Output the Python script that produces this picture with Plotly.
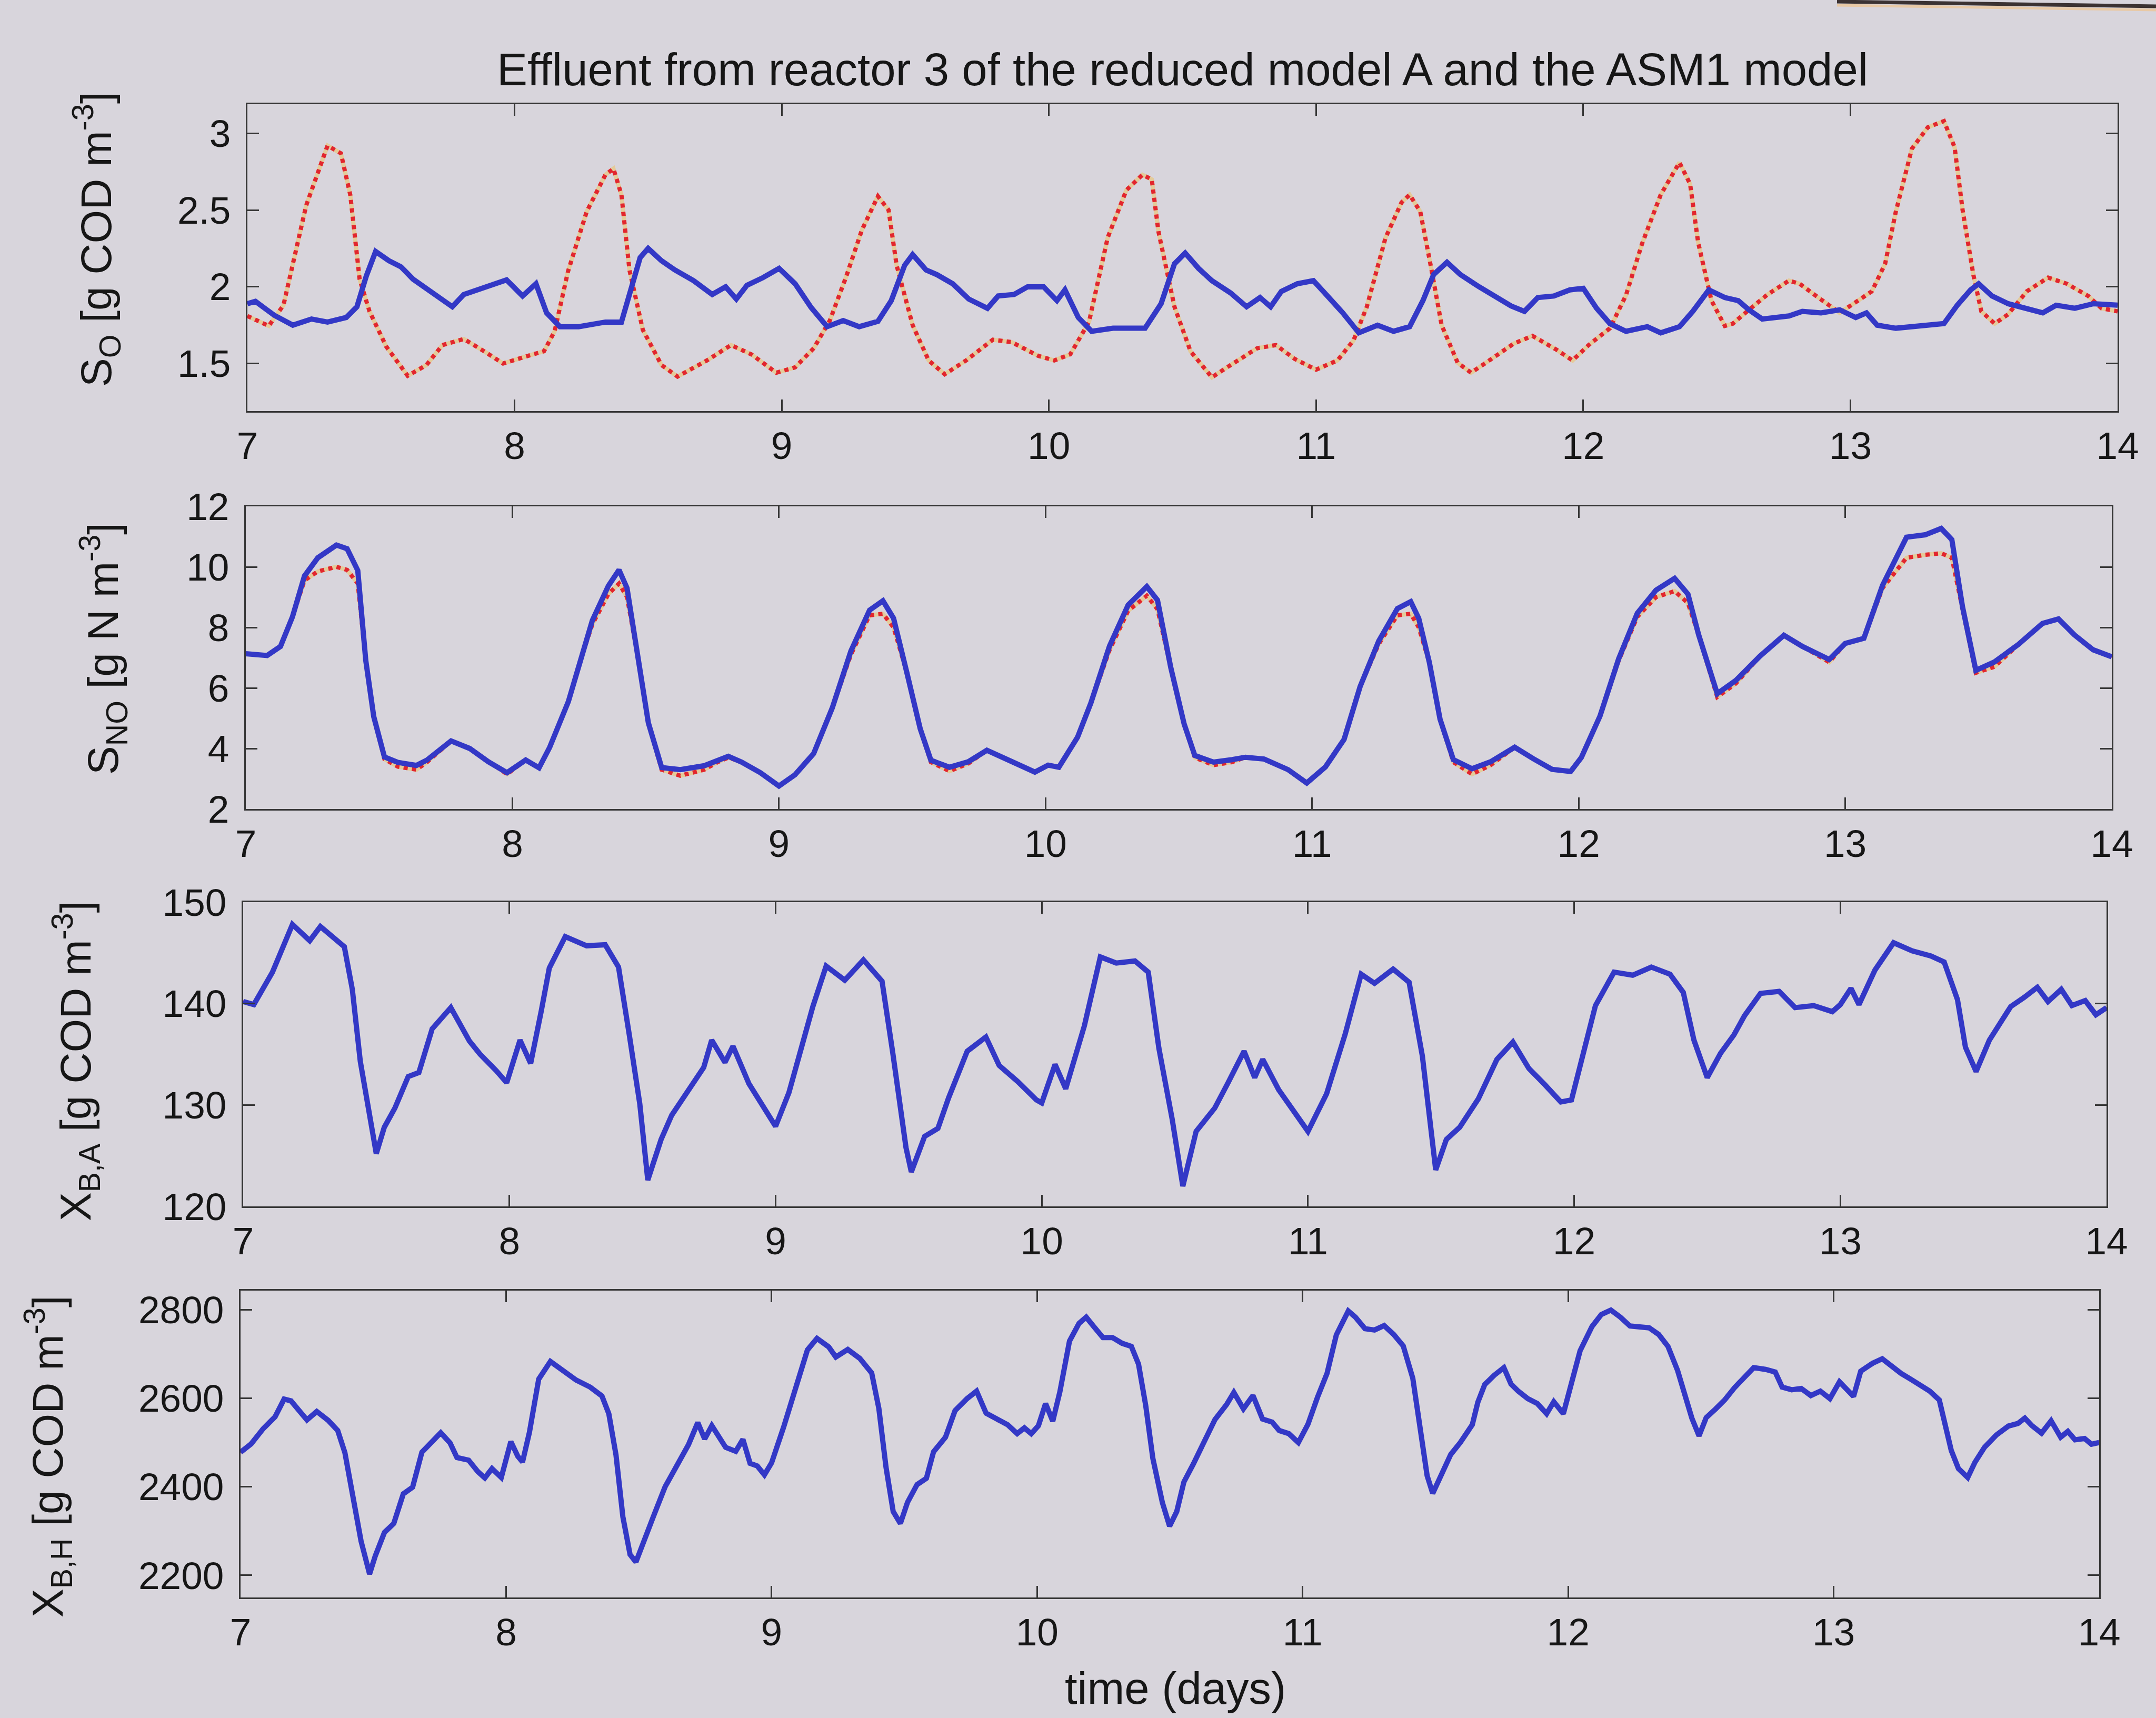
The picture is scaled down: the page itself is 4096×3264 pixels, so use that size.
import plotly.graph_objects as go

W, H = 4096, 3264

FONT = "Liberation Sans, Arial, Helvetica, sans-serif"
BG = "#d8d5dc"
BLUE = "#3338c6"
RED = "#e2262e"
HALO = "#f1c25a"
FRAME = "#363636"
INK = "#161616"

day_ticks = [7, 8, 9, 10, 11, 12, 13, 14]

so_ticks = [1.5, 2, 2.5, 3]
so_tick_text = ["1.5", "2", "2.5", "3"]
sno_ticks = [2, 4, 6, 8, 10, 12]
xba_ticks = [120, 130, 140, 150]
xbh_ticks = [2200, 2400, 2600, 2800]

# ---- S_O (dissolved oxygen) ----
so_dotted = [
    (7.00, 1.81), (7.08, 1.745), (7.135, 1.88), (7.17, 2.14), (7.22, 2.53), (7.30, 2.92),
    (7.35, 2.87), (7.385, 2.60), (7.42, 2.05), (7.457, 1.84), (7.52, 1.61), (7.60, 1.42),
    (7.67, 1.49), (7.73, 1.62), (7.81, 1.66), (7.886, 1.58), (7.957, 1.50), (8.05, 1.55),
    (8.11, 1.58), (8.15, 1.71), (8.20, 2.10), (8.27, 2.49), (8.34, 2.73), (8.37, 2.77),
    (8.40, 2.60), (8.43, 2.11), (8.48, 1.72), (8.55, 1.49), (8.61, 1.415), (8.72, 1.52),
    (8.81, 1.62), (8.886, 1.56), (8.98, 1.44), (9.05, 1.475), (9.12, 1.60), (9.18, 1.78),
    (9.24, 2.06), (9.30, 2.37), (9.36, 2.59), (9.40, 2.50), (9.43, 2.14), (9.49, 1.75),
    (9.55, 1.52), (9.61, 1.43), (9.69, 1.52), (9.79, 1.655), (9.86, 1.64), (9.96, 1.55),
    (10.02, 1.52), (10.08, 1.56), (10.15, 1.77), (10.22, 2.32), (10.29, 2.63), (10.35, 2.73),
    (10.385, 2.70), (10.41, 2.36), (10.47, 1.87), (10.53, 1.58), (10.61, 1.41), (10.68, 1.49),
    (10.78, 1.60), (10.85, 1.62), (10.92, 1.53), (11.00, 1.46), (11.08, 1.52), (11.14, 1.65),
    (11.19, 1.87), (11.26, 2.32), (11.32, 2.55), (11.35, 2.60), (11.39, 2.49), (11.43, 2.13),
    (11.47, 1.75), (11.53, 1.505), (11.58, 1.44), (11.64, 1.51), (11.74, 1.63), (11.81, 1.68),
    (11.90, 1.59), (11.96, 1.52), (12.02, 1.62), (12.10, 1.73), (12.16, 1.945), (12.22, 2.28),
    (12.29, 2.60), (12.36, 2.81), (12.40, 2.67), (12.43, 2.29), (12.48, 1.91), (12.53, 1.745),
    (12.56, 1.76), (12.62, 1.85), (12.69, 1.95), (12.77, 2.04), (12.81, 2.02), (12.88, 1.93),
    (12.96, 1.83), (13.02, 1.90), (13.08, 1.97), (13.13, 2.15), (13.17, 2.49), (13.23, 2.90),
    (13.29, 3.04), (13.35, 3.08), (13.39, 2.91), (13.42, 2.50), (13.46, 2.08), (13.49, 1.84),
    (13.54, 1.76), (13.59, 1.82), (13.66, 1.97), (13.74, 2.06), (13.81, 2.02), (13.89, 1.94),
    (13.94, 1.86), (14.00, 1.84),
]
so_solid = [
    (7.00, 1.89), (7.03, 1.905), (7.10, 1.815), (7.17, 1.75), (7.24, 1.79), (7.30, 1.77),
    (7.37, 1.80), (7.41, 1.87), (7.445, 2.07), (7.48, 2.23), (7.53, 2.17), (7.575, 2.13),
    (7.62, 2.05), (7.695, 1.96), (7.767, 1.87), (7.81, 1.95), (7.86, 1.98), (7.91, 2.01),
    (7.97, 2.045), (8.03, 1.94), (8.08, 2.02), (8.12, 1.83), (8.17, 1.74), (8.24, 1.74),
    (8.34, 1.77), (8.40, 1.77), (8.43, 1.95), (8.47, 2.19), (8.50, 2.25), (8.55, 2.17),
    (8.60, 2.11), (8.67, 2.04), (8.74, 1.95), (8.79, 2.00), (8.83, 1.92), (8.87, 2.01),
    (8.93, 2.06), (8.99, 2.12), (9.05, 2.02), (9.11, 1.865), (9.17, 1.74), (9.23, 1.78),
    (9.29, 1.74), (9.36, 1.775), (9.41, 1.91), (9.46, 2.14), (9.49, 2.21), (9.54, 2.11),
    (9.58, 2.08), (9.64, 2.02), (9.70, 1.92), (9.77, 1.86), (9.81, 1.94), (9.87, 1.95),
    (9.92, 2.00), (9.98, 2.00), (10.03, 1.91), (10.06, 1.98), (10.11, 1.80), (10.16, 1.71),
    (10.24, 1.73), (10.36, 1.73), (10.42, 1.89), (10.47, 2.15), (10.51, 2.22), (10.56, 2.12),
    (10.61, 2.04), (10.68, 1.96), (10.74, 1.87), (10.79, 1.93), (10.83, 1.87), (10.87, 1.97),
    (10.93, 2.02), (10.99, 2.04), (11.04, 1.945), (11.10, 1.83), (11.16, 1.70), (11.23, 1.75),
    (11.29, 1.71), (11.35, 1.74), (11.40, 1.91), (11.44, 2.08), (11.49, 2.16), (11.54, 2.08),
    (11.61, 2.00), (11.67, 1.94), (11.73, 1.875), (11.78, 1.84), (11.83, 1.93), (11.89, 1.94),
    (11.95, 1.98), (12.00, 1.99), (12.05, 1.86), (12.10, 1.76), (12.16, 1.71), (12.24, 1.74),
    (12.29, 1.70), (12.36, 1.74), (12.41, 1.84), (12.47, 1.98), (12.53, 1.93), (12.58, 1.91),
    (12.62, 1.85), (12.67, 1.79), (12.77, 1.81), (12.82, 1.84), (12.89, 1.83), (12.96, 1.85),
    (13.02, 1.80), (13.06, 1.83), (13.10, 1.75), (13.17, 1.73), (13.25, 1.74), (13.35, 1.76),
    (13.40, 1.88), (13.45, 1.98), (13.48, 2.02), (13.53, 1.94), (13.59, 1.89), (13.65, 1.86),
    (13.72, 1.83), (13.77, 1.88), (13.84, 1.86), (13.91, 1.89), (14.00, 1.88),
]

# ---- S_NO (nitrate) ----
sno_solid = [
    (7.00, 7.13), (7.08, 7.07), (7.13, 7.37), (7.175, 8.35), (7.22, 9.70), (7.27, 10.30),
    (7.34, 10.72), (7.38, 10.60), (7.42, 9.88), (7.45, 6.91), (7.48, 5.05), (7.52, 3.72),
    (7.57, 3.54), (7.64, 3.44), (7.68, 3.62), (7.77, 4.25), (7.84, 4.00), (7.91, 3.56),
    (7.98, 3.20), (8.05, 3.62), (8.10, 3.36), (8.14, 4.04), (8.21, 5.55), (8.26, 7.04),
    (8.30, 8.23), (8.36, 9.37), (8.40, 9.90), (8.43, 9.30), (8.47, 7.08), (8.51, 4.85),
    (8.56, 3.37), (8.63, 3.30), (8.72, 3.43), (8.77, 3.62), (8.81, 3.74), (8.86, 3.55),
    (8.93, 3.20), (9.00, 2.76), (9.06, 3.13), (9.13, 3.83), (9.20, 5.34), (9.27, 7.22),
    (9.34, 8.57), (9.39, 8.88), (9.43, 8.30), (9.48, 6.50), (9.53, 4.65), (9.57, 3.61),
    (9.64, 3.38), (9.71, 3.56), (9.78, 3.94), (9.87, 3.58), (9.96, 3.22), (10.01, 3.45),
    (10.05, 3.38), (10.12, 4.37), (10.17, 5.50), (10.24, 7.38), (10.31, 8.74), (10.38, 9.35),
    (10.42, 8.90), (10.47, 6.67), (10.52, 4.81), (10.56, 3.77), (10.63, 3.55), (10.70, 3.63),
    (10.75, 3.71), (10.82, 3.65), (10.91, 3.30), (10.98, 2.86), (11.05, 3.39), (11.12, 4.30),
    (11.18, 6.04), (11.25, 7.55), (11.32, 8.62), (11.37, 8.85), (11.40, 8.30), (11.44, 6.84),
    (11.48, 4.97), (11.53, 3.63), (11.60, 3.33), (11.67, 3.56), (11.76, 4.04), (11.83, 3.66),
    (11.90, 3.31), (11.97, 3.24), (12.01, 3.70), (12.08, 5.07), (12.15, 6.96), (12.22, 8.47),
    (12.29, 9.23), (12.36, 9.62), (12.41, 9.10), (12.45, 7.76), (12.50, 6.26), (12.52, 5.81),
    (12.59, 6.25), (12.68, 7.05), (12.77, 7.74), (12.84, 7.37), (12.94, 6.94), (13.00, 7.47),
    (13.07, 7.64), (13.14, 9.39), (13.23, 10.98), (13.30, 11.06), (13.36, 11.27), (13.40, 10.90),
    (13.44, 8.68), (13.49, 6.58), (13.56, 6.86), (13.65, 7.44), (13.74, 8.13), (13.80, 8.28),
    (13.86, 7.75), (13.93, 7.26), (14.00, 7.03),
]
sno_dotted = [
    (7.00, 7.13), (7.08, 7.07), (7.13, 7.37), (7.175, 8.35), (7.22, 9.55), (7.27, 9.85),
    (7.34, 10.00), (7.38, 9.90), (7.42, 9.45), (7.45, 6.91), (7.48, 5.05), (7.52, 3.65),
    (7.57, 3.40), (7.64, 3.30), (7.68, 3.55), (7.77, 4.25), (7.84, 4.00), (7.91, 3.56),
    (7.98, 3.15), (8.05, 3.62), (8.10, 3.36), (8.14, 4.04), (8.21, 5.55), (8.26, 7.04),
    (8.30, 8.10), (8.36, 9.10), (8.40, 9.45), (8.43, 9.00), (8.47, 7.08), (8.51, 4.85),
    (8.56, 3.30), (8.63, 3.10), (8.72, 3.30), (8.77, 3.55), (8.81, 3.70), (8.86, 3.55),
    (8.93, 3.20), (9.00, 2.76), (9.06, 3.13), (9.13, 3.83), (9.20, 5.34), (9.27, 7.10),
    (9.34, 8.40), (9.39, 8.45), (9.43, 8.00), (9.48, 6.50), (9.53, 4.65), (9.57, 3.55),
    (9.64, 3.25), (9.71, 3.50), (9.78, 3.94), (9.87, 3.58), (9.96, 3.22), (10.01, 3.45),
    (10.05, 3.38), (10.12, 4.37), (10.17, 5.50), (10.24, 7.25), (10.31, 8.55), (10.38, 9.05),
    (10.42, 8.60), (10.47, 6.67), (10.52, 4.81), (10.56, 3.70), (10.63, 3.45), (10.70, 3.55),
    (10.75, 3.71), (10.82, 3.65), (10.91, 3.30), (10.98, 2.86), (11.05, 3.39), (11.12, 4.30),
    (11.18, 6.04), (11.25, 7.45), (11.32, 8.40), (11.37, 8.45), (11.40, 8.00), (11.44, 6.84),
    (11.48, 4.97), (11.53, 3.55), (11.60, 3.15), (11.67, 3.45), (11.76, 4.04), (11.83, 3.66),
    (11.90, 3.31), (11.97, 3.24), (12.01, 3.70), (12.08, 5.07), (12.15, 6.90), (12.22, 8.35),
    (12.29, 9.00), (12.36, 9.20), (12.41, 8.80), (12.45, 7.76), (12.50, 6.26), (12.52, 5.70),
    (12.59, 6.15), (12.68, 7.05), (12.77, 7.74), (12.84, 7.37), (12.94, 6.85), (13.00, 7.47),
    (13.07, 7.64), (13.14, 9.30), (13.23, 10.30), (13.30, 10.40), (13.36, 10.45), (13.40, 10.30),
    (13.44, 8.68), (13.49, 6.50), (13.56, 6.70), (13.65, 7.44), (13.74, 8.13), (13.80, 8.28),
    (13.86, 7.75), (13.93, 7.26), (14.00, 7.03),
]

# ---- X_B,A (autotrophic biomass) ----
xba_solid = [
    (7.00, 140.2), (7.04, 139.9), (7.11, 143.1), (7.14, 144.9), (7.185, 147.8), (7.25, 146.2),
    (7.29, 147.6), (7.38, 145.6), (7.41, 141.4), (7.44, 134.3), (7.47, 129.6), (7.50, 125.2),
    (7.53, 127.8), (7.57, 129.7), (7.62, 132.8), (7.66, 133.2), (7.71, 137.5), (7.78, 139.6),
    (7.85, 136.3), (7.89, 135.0), (7.95, 133.4), (7.99, 132.2), (8.04, 136.4), (8.08, 134.1),
    (8.12, 139.3), (8.15, 143.5), (8.21, 146.6), (8.29, 145.7), (8.36, 145.8), (8.41, 143.6),
    (8.45, 137.0), (8.49, 130.1), (8.52, 122.6), (8.57, 126.6), (8.61, 129.0), (8.67, 131.3),
    (8.73, 133.7), (8.76, 136.4), (8.81, 134.2), (8.84, 135.8), (8.90, 132.1), (8.95, 130.0),
    (9.00, 127.9), (9.05, 131.2), (9.09, 135.0), (9.14, 139.7), (9.19, 143.7), (9.26, 142.3),
    (9.33, 144.3), (9.40, 142.2), (9.44, 135.2), (9.49, 125.8), (9.51, 123.4), (9.56, 126.9),
    (9.61, 127.7), (9.65, 130.7), (9.72, 135.3), (9.79, 136.7), (9.84, 133.9), (9.91, 132.3),
    (9.98, 130.5), (10.00, 130.2), (10.05, 134.0), (10.09, 131.6), (10.16, 137.8), (10.22, 144.6),
    (10.28, 144.0), (10.35, 144.2), (10.40, 143.1), (10.44, 135.6), (10.49, 128.6), (10.53, 122.0),
    (10.58, 127.4), (10.65, 129.7), (10.70, 132.2), (10.76, 135.3), (10.80, 132.7), (10.83, 134.5),
    (10.89, 131.5), (10.94, 129.6), (11.00, 127.4), (11.07, 131.1), (11.14, 137.0), (11.20, 142.9),
    (11.25, 142.0), (11.32, 143.4), (11.38, 142.1), (11.43, 134.8), (11.48, 123.6), (11.52, 126.6),
    (11.57, 127.8), (11.64, 130.6), (11.71, 134.5), (11.77, 136.2), (11.83, 133.6), (11.89, 132.0),
    (11.95, 130.3), (11.99, 130.5), (12.04, 135.5), (12.08, 139.8), (12.15, 143.1), (12.22, 142.8),
    (12.29, 143.6), (12.36, 142.9), (12.41, 141.1), (12.45, 136.4), (12.50, 132.7), (12.55, 135.1),
    (12.60, 136.9), (12.64, 138.8), (12.70, 141.0), (12.77, 141.2), (12.83, 139.6), (12.90, 139.8),
    (12.97, 139.2), (13.00, 139.9), (13.04, 141.5), (13.07, 139.9), (13.13, 143.3), (13.20, 146.0),
    (13.27, 145.2), (13.34, 144.7), (13.39, 144.1), (13.44, 140.4), (13.47, 135.7), (13.51, 133.3),
    (13.56, 136.4), (13.64, 139.7), (13.69, 140.6), (13.74, 141.6), (13.78, 140.2), (13.83, 141.4),
    (13.87, 139.8), (13.92, 140.3), (13.96, 138.9), (14.00, 139.6),
]
# both runs lie on top of each other for this state
xba_dotted = xba_solid

# ---- X_B,H (heterotrophic biomass) ----
xbh_solid = [
    (7.00, 2478), (7.04, 2497), (7.085, 2531), (7.13, 2558), (7.164, 2598), (7.19, 2594),
    (7.25, 2551), (7.287, 2570), (7.33, 2550), (7.366, 2527), (7.393, 2477), (7.428, 2357),
    (7.454, 2277), (7.486, 2203), (7.507, 2243), (7.542, 2297), (7.577, 2317), (7.613, 2384),
    (7.648, 2399), (7.683, 2478), (7.727, 2506), (7.754, 2522), (7.789, 2499), (7.815, 2466),
    (7.859, 2460), (7.894, 2434), (7.92, 2420), (7.947, 2441), (7.982, 2421), (8.018, 2502),
    (8.044, 2469), (8.062, 2456), (8.088, 2523), (8.123, 2643), (8.167, 2683), (8.211, 2664),
    (8.264, 2641), (8.317, 2625), (8.361, 2605), (8.387, 2565), (8.414, 2472), (8.44, 2332),
    (8.467, 2247), (8.489, 2230), (8.519, 2280), (8.555, 2333), (8.599, 2400), (8.643, 2448),
    (8.687, 2495), (8.722, 2545), (8.748, 2508), (8.775, 2538), (8.827, 2489), (8.865, 2480),
    (8.892, 2507), (8.919, 2453), (8.946, 2447), (8.973, 2427), (9.00, 2454), (9.045, 2534),
    (9.099, 2635), (9.135, 2709), (9.171, 2735), (9.215, 2716), (9.242, 2693), (9.287, 2710),
    (9.332, 2690), (9.377, 2657), (9.404, 2577), (9.431, 2444), (9.458, 2344), (9.485, 2317),
    (9.512, 2365), (9.548, 2405), (9.583, 2419), (9.61, 2479), (9.655, 2512), (9.691, 2572),
    (9.736, 2599), (9.772, 2616), (9.808, 2566), (9.844, 2553), (9.889, 2540), (9.925, 2520),
    (9.952, 2533), (9.978, 2520), (10.005, 2538), (10.032, 2588), (10.059, 2548), (10.086, 2615),
    (10.122, 2729), (10.158, 2769), (10.185, 2783), (10.212, 2763), (10.248, 2737), (10.284, 2737),
    (10.32, 2724), (10.355, 2717), (10.382, 2677), (10.409, 2584), (10.436, 2464), (10.472, 2364),
    (10.499, 2311), (10.526, 2344), (10.553, 2411), (10.589, 2452), (10.634, 2505), (10.67, 2552),
    (10.714, 2586), (10.741, 2613), (10.777, 2576), (10.813, 2606), (10.849, 2553), (10.885, 2546),
    (10.912, 2527), (10.948, 2520), (10.984, 2500), (11.02, 2541), (11.056, 2602), (11.092, 2656),
    (11.127, 2743), (11.172, 2797), (11.199, 2783), (11.235, 2757), (11.271, 2754), (11.307, 2764),
    (11.343, 2744), (11.379, 2718), (11.415, 2645), (11.442, 2538), (11.469, 2425), (11.49, 2385),
    (11.522, 2426), (11.558, 2473), (11.594, 2500), (11.639, 2540), (11.66, 2591), (11.686, 2631),
    (11.722, 2652), (11.758, 2669), (11.785, 2632), (11.812, 2616), (11.848, 2599), (11.884, 2588),
    (11.919, 2565), (11.946, 2592), (11.982, 2565), (12.009, 2626), (12.045, 2707), (12.09, 2762),
    (12.125, 2789), (12.161, 2799), (12.197, 2783), (12.233, 2763), (12.269, 2762), (12.305, 2759),
    (12.341, 2744), (12.376, 2717), (12.412, 2663), (12.439, 2609), (12.466, 2555), (12.493, 2515),
    (12.52, 2556), (12.556, 2576), (12.591, 2597), (12.627, 2624), (12.663, 2645), (12.699, 2669),
    (12.744, 2665), (12.78, 2659), (12.806, 2625), (12.842, 2619), (12.878, 2622), (12.914, 2606),
    (12.95, 2616), (12.986, 2599), (13.022, 2637), (13.048, 2620), (13.075, 2604), (13.102, 2661),
    (13.147, 2679), (13.183, 2689), (13.219, 2672), (13.254, 2656), (13.29, 2643), (13.326, 2629),
    (13.362, 2616), (13.398, 2596), (13.416, 2549), (13.443, 2482), (13.47, 2441), (13.505, 2421),
    (13.532, 2455), (13.568, 2489), (13.613, 2517), (13.658, 2537), (13.694, 2543), (13.72, 2555),
    (13.747, 2538), (13.783, 2521), (13.819, 2549), (13.855, 2512), (13.882, 2525), (13.909, 2506),
    (13.945, 2509), (13.971, 2496), (14.00, 2500),
]
xbh_dotted = xbh_solid

panels = [
    dict(solid=so_solid, dotted=so_dotted, yrange=[1.19, 3.19], ticks=so_ticks,
         ticktext=so_tick_text, x=(470, 4023), y=(198, 781),
         label="S<sub>O</sub> [g COD m<sup>-3</sup>]", lab=(183, 455)),
    dict(solid=sno_solid, dotted=sno_dotted, yrange=[2, 12], ticks=sno_ticks,
         ticktext=[str(v) for v in sno_ticks], x=(467, 4012), y=(962, 1537),
         label="S<sub>NO</sub> [g N m<sup>-3</sup>]", lab=(196, 1233)),
    dict(solid=xba_solid, dotted=xba_dotted, yrange=[120, 150], ticks=xba_ticks,
         ticktext=[str(v) for v in xba_ticks], x=(462, 4002), y=(1714, 2292),
         label="X<sub>B,A</sub> [g COD m<sup>-3</sup>]", lab=(144, 2016)),
    dict(solid=xbh_solid, dotted=xbh_dotted, yrange=[2150, 2843], ticks=xbh_ticks,
         ticktext=[str(v) for v in xbh_ticks], x=(457, 3988), y=(2452, 3035),
         label="X<sub>B,H</sub> [g COD m<sup>-3</sup>]", lab=(91, 2768)),
]

fig = go.Figure()
layout = dict(
    template="none",
    width=W, height=H,
    margin=dict(l=0, r=0, t=0, b=0, pad=0, autoexpand=False),
    paper_bgcolor=BG, plot_bgcolor=BG,
    showlegend=False,
    font=dict(family=FONT, color=INK, size=73),
)

annotations = []
for i, p in enumerate(panels, start=1):
    xa = "x" if i == 1 else f"x{i}"
    ya = "y" if i == 1 else f"y{i}"
    dt, dv = zip(*p["dotted"])
    st, sv = zip(*p["solid"])
    fig.add_trace(go.Scatter(x=dt, y=dv, xaxis=xa, yaxis=ya, mode="lines",
                             line=dict(color=HALO, width=8), opacity=0.5,
                             hoverinfo="skip"))
    fig.add_trace(go.Scatter(x=dt, y=dv, xaxis=xa, yaxis=ya, mode="lines",
                             line=dict(color=RED, width=8, dash="dot")))
    fig.add_trace(go.Scatter(x=st, y=sv, xaxis=xa, yaxis=ya, mode="lines",
                             line=dict(color=BLUE, width=10)))

    axis_common = dict(
        showline=True, linewidth=3, linecolor=FRAME, mirror="ticks",
        ticks="inside", ticklen=22, tickwidth=3, tickcolor=FRAME,
        showgrid=False, zeroline=False, automargin=False,
        tickfont=dict(family=FONT, size=73, color=INK),
    )
    xkey = "xaxis" if i == 1 else f"xaxis{i}"
    ykey = "yaxis" if i == 1 else f"yaxis{i}"
    layout[xkey] = dict(
        axis_common,
        domain=[p["x"][0] / W, p["x"][1] / W],
        anchor=ya, range=[7, 14], tickvals=day_ticks,
        ticktext=[str(d) for d in day_ticks], ticklabelstandoff=0,
    )
    layout[ykey] = dict(
        axis_common,
        domain=[1 - p["y"][1] / H, 1 - p["y"][0] / H],
        anchor=xa, range=p["yrange"], tickvals=p["ticks"], ticktext=p["ticktext"],
        ticklabelstandoff=14,
    )
    annotations.append(dict(
        text=p["label"], x=p["lab"][0] / W, y=1 - p["lab"][1] / H,
        xref="paper", yref="paper", xanchor="center", yanchor="middle",
        textangle=-90, showarrow=False,
        font=dict(family=FONT, size=82, color=INK),
    ))

annotations.append(dict(
    text="Effluent from reactor 3 of the reduced model A and the ASM1 model",
    x=2246 / W, y=1 - 132 / H, xref="paper", yref="paper",
    xanchor="center", yanchor="middle", showarrow=False,
    font=dict(family=FONT, size=87, color=INK),
))
annotations.append(dict(
    text="time (days)", x=2233 / W, y=1 - 3207 / H, xref="paper", yref="paper",
    xanchor="center", yanchor="middle", showarrow=False,
    font=dict(family=FONT, size=85, color=INK),
))
layout["annotations"] = annotations

# dark edge of the facing page along the top right corner
layout["shapes"] = [
    dict(type="line", xref="paper", yref="paper",
         x0=3490 / W, y0=1 - 3 / H, x1=1.0, y1=1 - 12 / H,
         line=dict(color="#3b3232", width=7)),
    dict(type="line", xref="paper", yref="paper",
         x0=3490 / W, y0=1 - 10 / H, x1=1.0, y1=1 - 19 / H,
         line=dict(color="#e8c9a6", width=5)),
]

fig.update_layout(**layout)
fig.write_html("out.html")
